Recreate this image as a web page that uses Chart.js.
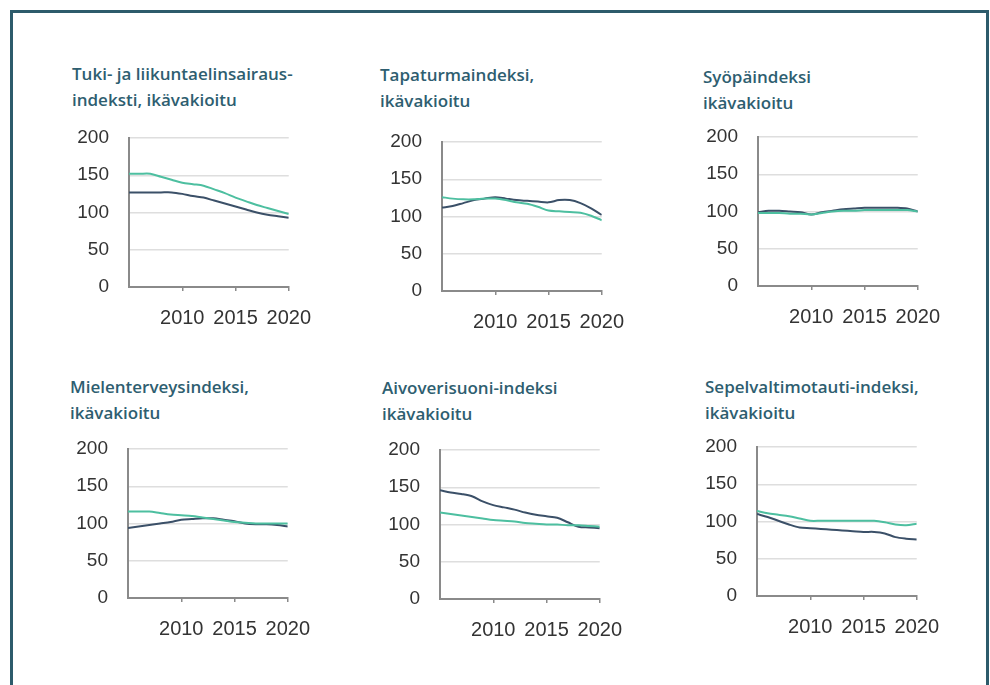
<!DOCTYPE html>
<html>
<head>
    <meta charset="utf-8" />
    <title>ikävakioidut indeksit</title>
    <script src="https://cdn.jsdelivr.net/npm/chart.js"></script>
    <style>
        body {
            margin: 0;
            background: #ffffff;
            width: 990px;
            height: 685px;
            overflow: hidden;
            position: relative;
        }

        .frame {
            position: absolute;
            left: 10px;
            top: 10px;
            width: 973px;
            height: 720px;
            border-left: 3px solid #2d5b6b;
            border-top: 3px solid #2d5b6b;
            border-right: 3px solid #2d5b6b;
        }

        .title {
            position: absolute;
            font-family: "Open Sans", sans-serif;
            font-weight: 600;
            font-size: 17px;
            line-height: 26px;
            color: #2e5e70;
            white-space: nowrap;
        }

        .box {
            position: absolute;
            width: 267px;
            height: 234px;
        }
    </style>
</head>

<body>
    <div class="frame"></div>

    <div class="title" style="left:72px; top:61px;">Tuki- ja liikuntaelinsairaus-<br />indeksti, ikävakioitu</div>
    <div class="title" style="left:380px; top:62px;">Tapaturmaindeksi,<br />ikävakioitu</div>
    <div class="title" style="left:703px; top:64px;">Syöpäindeksi<br />ikävakioitu</div>
    <div class="title" style="left:70px; top:374px;">Mielenterveysindeksi,<br />ikävakioitu</div>
    <div class="title" style="left:382px; top:375px;">Aivoverisuoni-indeksi<br />ikävakioitu</div>
    <div class="title" style="left:705px; top:374px;">Sepelvaltimotauti-indeksi,<br />ikävakioitu</div>

    <!-- plot area starts 70px right and 35px down from each box -->
    <div class="box" style="left:59px; top:103px;"><canvas id="c1" width="267" height="234"></canvas></div>
    <div class="box" style="left:372px; top:107px;"><canvas id="c2" width="267" height="234"></canvas></div>
    <div class="box" style="left:688px; top:102px;"><canvas id="c3" width="267" height="234"></canvas></div>
    <div class="box" style="left:58px; top:414px;"><canvas id="c4" width="267" height="234"></canvas></div>
    <div class="box" style="left:370px; top:415px;"><canvas id="c5" width="267" height="234"></canvas></div>
    <div class="box" style="left:687px; top:412px;"><canvas id="c6" width="267" height="234"></canvas></div>

<script>
    // data, 2005-2020
    const years = [2005, 2006, 2007, 2008, 2009, 2010, 2011, 2012, 2013, 2014, 2015, 2016, 2017, 2018, 2019, 2020]
    const xTicks = [2010, 2015, 2020]
    const yTicks = [0, 50, 100, 150, 200]

    const tukiDark = [127, 127, 127, 127, 127, 125, 122, 120, 116, 112, 108, 104, 100, 97, 95, 93]
    const tukiGreen = [152, 152, 152, 148, 144, 140, 138, 136, 131, 126, 120, 115, 110, 106, 102, 98]

    const tapaDark = [112, 114, 118, 122, 124, 126, 124, 122, 121, 120, 119, 122, 122, 118, 111, 102]
    const tapaGreen = [126, 124, 123, 123, 124, 124, 122, 119, 117, 113, 108, 107, 106, 105, 101, 95]

    const syopaDark = [99, 101, 101, 100, 99, 96, 99, 101, 103, 104, 105, 105, 105, 105, 104, 100]
    const syopaGreen = [98, 98, 98, 97, 97, 96, 98, 100, 101, 101, 102, 102, 102, 102, 102, 100]

    const mieliDark = [94, 96, 98, 100, 102, 105, 106, 107, 107, 105, 103, 100, 99, 99, 98, 96]
    const mieliGreen = [116, 116, 116, 114, 112, 111, 110, 108, 106, 104, 102, 101, 100, 100, 100, 100]

    const aivoDark = [146, 143, 141, 138, 131, 126, 123, 120, 116, 113, 111, 109, 103, 97, 96, 95]
    const aivoGreen = [116, 114, 112, 110, 108, 106, 105, 104, 102, 101, 100, 100, 99, 99, 98, 97]

    const sepelDark = [110, 106, 101, 96, 92, 91, 90, 89, 88, 87, 86, 86, 84, 79, 77, 76]
    const sepelGreen = [114, 111, 109, 107, 104, 101, 101, 101, 101, 101, 101, 101, 99, 96, 95, 97]

    const darkColor = '#3b5068'
    const greenColor = '#4dbfa0'
    const axisColor = '#8a8a8a'
    const tickFont = 'Liberation Sans, Arial, sans-serif'

    function points(values) {
        return years.map((y, i) => ({ x: y, y: values[i] }))
    }

    function makeChart(id, dark, green) {
        return new Chart(document.getElementById(id), {
            type: 'line',
            data: {
                datasets: [
                    { data: points(green), borderColor: greenColor, borderWidth: 2, pointRadius: 0, tension: 0.3 },
                    { data: points(dark), borderColor: darkColor, borderWidth: 2, pointRadius: 0, tension: 0.3 }
                ]
            },
            options: {
                responsive: false,
                animation: false,
                devicePixelRatio: 1,
                // top padding has to be bigger than half a y label + ticks.padding
                layout: { padding: { left: 0, right: 35, top: 35, bottom: 0 } },
                plugins: { legend: { display: false }, tooltip: { enabled: false } },
                scales: {
                    x: {
                        type: 'linear',
                        min: 2005,
                        max: 2020,
                        afterBuildTicks: s => { s.ticks = xTicks.map(v => ({ value: v })) },
                        afterFit: s => { s.height = 50 },
                        grid: { drawOnChartArea: false, drawTicks: true, tickLength: 4, color: axisColor, lineWidth: 1.5 },
                        border: { color: axisColor, width: 2 },
                        ticks: {
                            padding: 15,
                            color: '#333333',
                            maxRotation: 0,
                            autoSkip: false,
                            font: { family: tickFont, size: 20 },
                            callback: v => String(v)
                        }
                    },
                    y: {
                        min: 0,
                        max: 200,
                        afterBuildTicks: s => { s.ticks = yTicks.map(v => ({ value: v })) },
                        afterFit: s => { s.width = 70 },
                        grid: {
                            drawTicks: false,
                            lineWidth: 1.5,
                            color: c => (c.tick && c.tick.value === 0) ? 'rgba(0,0,0,0)' : '#dedede'
                        },
                        border: { color: axisColor, width: 2 },
                        ticks: {
                            padding: 20,
                            color: '#333333',
                            font: { family: tickFont, size: 19 },
                            callback: v => String(v)
                        }
                    }
                }
            }
        })
    }

    makeChart('c1', tukiDark, tukiGreen)
    makeChart('c2', tapaDark, tapaGreen)
    makeChart('c3', syopaDark, syopaGreen)
    makeChart('c4', mieliDark, mieliGreen)
    makeChart('c5', aivoDark, aivoGreen)
    makeChart('c6', sepelDark, sepelGreen)
</script>
</body>
</html>
